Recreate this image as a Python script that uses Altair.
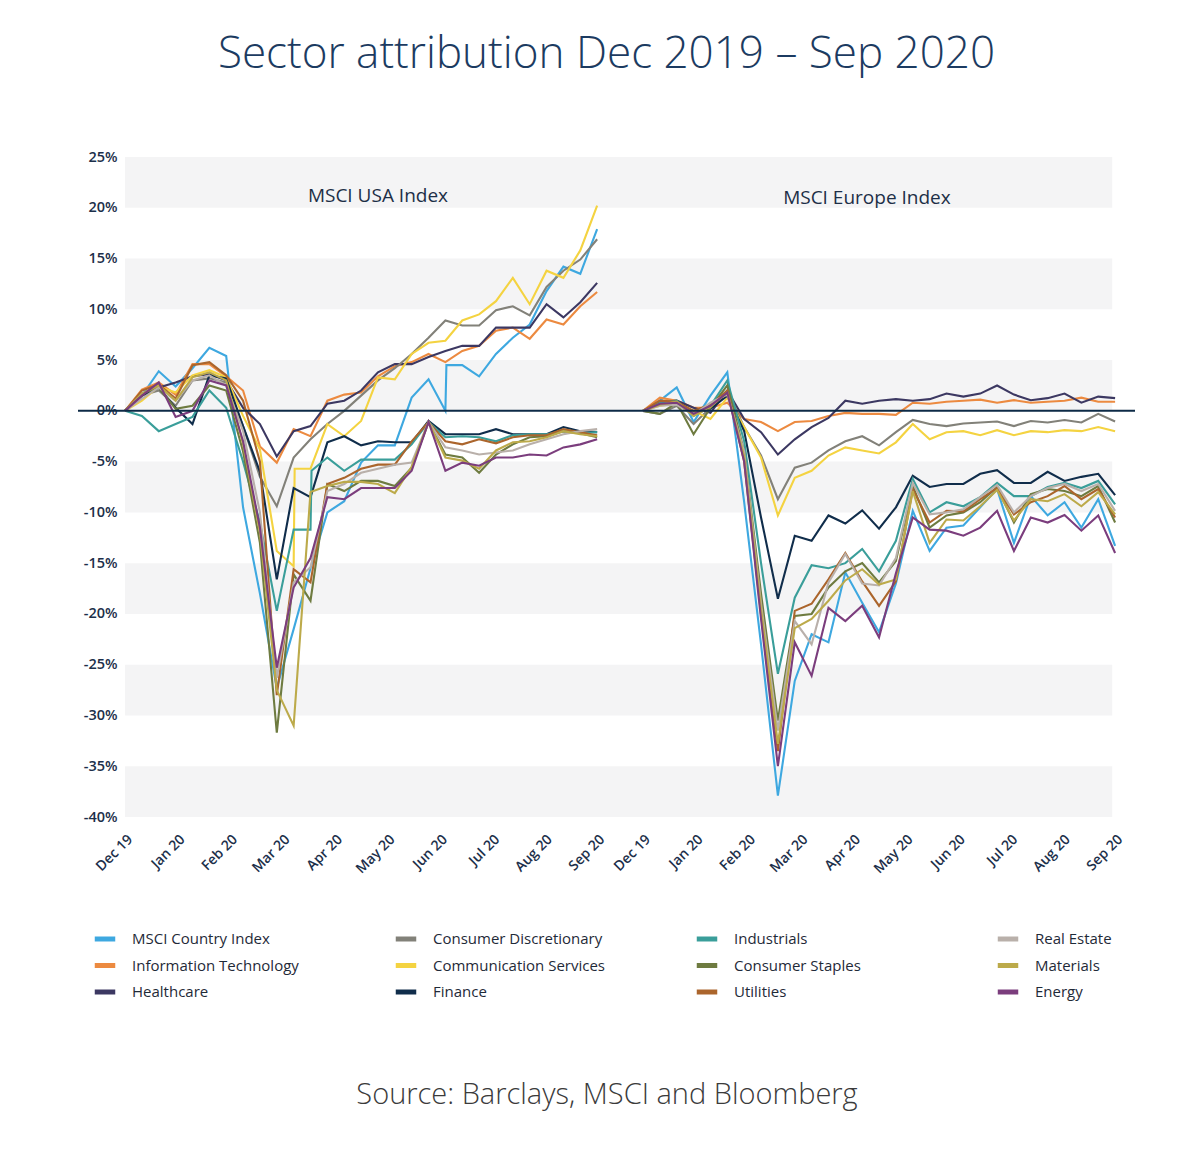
import altair as alt
import pandas as pd

TITLE = "Sector attribution Dec 2019 \u2013 Sep 2020"
SOURCE = "Source: Barclays, MSCI and Bloomberg"
PANELS = ["MSCI USA Index", "MSCI Europe Index"]
MONTHS = ["Dec 19", "Jan 20", "Feb 20", "Mar 20", "Apr 20", "May 20",
          "Jun 20", "Jul 20", "Aug 20", "Sep 20"]
SERIES = ["MSCI Country Index", "Consumer Discretionary", "Industrials", "Real Estate",
          "Information Technology", "Communication Services", "Consumer Staples", "Materials",
          "Healthcare", "Finance", "Utilities", "Energy"]
COLORS = ["#3ea8e0", "#828179", "#3a9e9a", "#b9b0aa",
          "#ec8a40", "#f4d341", "#6e7b40", "#bcaa4a",
          "#3c3862", "#102d4b", "#ab652c", "#7b3d7d"]
Y_TICKS = list(range(-40, 30, 5))
BAND_LOWS = [20, 10, 0, -10, -20, -30, -40]

# ---- MSCI USA panel, weekly cumulative attribution (%) ----
us_country = [0, 1.5, 3.9, 2.4, 4.2, 6.2, 5.4, -9.5, -18.0, -27.3, -21.5, -15.5, -10.0, -8.9, -5.1,
              -3.4, -3.4, 1.3, 3.1, 0.0, 4.5, 3.4, 5.6, 7.2, 8.5, 11.8, 14.2, 13.5, 17.9]
us_it = [0, 2.1, 2.8, 1.6, 4.6, 4.6, 3.4, 2.0, -3.5, -5.1, -1.8, -2.5, 1.0, 1.6, 1.8,
         3.4, 4.4, 4.8, 5.6, 4.8, 5.9, 6.4, 7.9, 8.2, 7.1, 9.0, 8.5, 10.3, 11.7]
us_health = [0, 1.6, 2.3, 2.8, 3.4, 3.6, 3.0, 0.3, -1.3, -4.5, -2.0, -1.5, 0.7, 1.0, 2.0,
             3.8, 4.6, 4.6, 5.3, 5.9, 6.4, 6.4, 8.2, 8.2, 8.2, 10.5, 9.2, 10.7, 12.6]
us_discr = [0, 1.5, 2.0, 0.5, 3.0, 3.2, 2.8, -1.5, -6.5, -9.4, -4.6, -2.8, -1.3, 0.0, 1.5,
            3.0, 4.2, 5.6, 7.2, 8.9, 8.4, 8.4, 9.9, 10.3, 9.4, 12.2, 13.8, 14.9, 16.9]
us_comm = [0, 1.0, 2.4, 1.8, 3.5, 4.0, 3.3, -0.5, -3.8, -13.8, -15.3, -5.7, -1.3, -2.5, -1.0,
           3.3, 3.1, 5.6, 6.7, 6.9, 8.9, 9.5, 10.8, 13.1, 10.5, 13.8, 13.1, 15.8, 20.2]
us_fin = [0, 1.5, 2.3, 0.3, -1.3, 3.5, 3.2, -1.5, -6.0, -16.6, -7.6, -8.5, -3.1, -2.5, -3.4,
          -3.0, -3.1, -3.1, -1.0, -2.3, -2.3, -2.3, -1.8, -2.3, -2.3, -2.3, -1.6, -2.0, -2.1]
us_ind = [0, -0.5, -2.0, -1.3, -0.6, 2.0, 0.3, -5.0, -11.0, -19.7, -11.7, -11.7, -4.6, -5.9, -4.8,
          -4.8, -4.8, -3.3, -1.1, -2.6, -2.5, -2.6, -3.0, -2.4, -2.3, -2.3, -2.0, -2.2, -2.1]
us_staples = [0, 1.7, 2.3, 0.2, 0.5, 2.5, 2.0, -4.0, -13.0, -31.7, -16.1, -18.7, -7.2, -7.9, -6.9,
              -6.9, -7.4, -5.6, -1.1, -4.3, -4.6, -6.1, -4.3, -3.3, -2.6, -2.5, -2.0, -2.2, -2.6]
us_util = [0, 2.0, 2.6, 1.2, 4.5, 4.8, 3.5, 1.0, -5.0, -28.0, -15.6, -16.9, -7.2, -6.6, -5.7,
           -5.3, -5.3, -3.0, -1.1, -3.0, -3.3, -2.8, -3.2, -2.6, -2.4, -2.4, -1.8, -2.1, -2.4]
us_re = [0, 1.2, 2.3, 1.0, 3.0, 3.5, 2.5, -2.0, -10.0, -26.3, -16.9, -15.4, -7.9, -7.2, -6.1,
         -5.7, -5.3, -5.1, -1.1, -3.6, -3.9, -4.3, -4.1, -3.9, -3.3, -2.8, -2.3, -2.0, -1.8]
us_mat = [0, 1.7, 2.5, 1.0, 3.3, 3.8, 3.0, -3.3, -12.0, -27.5, -31.0, -8.0, -7.4, -7.0, -7.0,
          -7.2, -8.1, -5.5, -1.1, -4.6, -4.9, -5.7, -3.9, -3.1, -3.0, -2.6, -2.0, -2.3, -2.5]
us_energy = [0, 1.5, 2.8, -0.6, 0.0, 3.0, 2.5, -3.0, -11.5, -25.3, -17.4, -14.5, -8.5, -8.7, -7.6,
             -7.6, -7.6, -5.9, -1.1, -5.9, -5.1, -5.4, -4.6, -4.6, -4.3, -4.4, -3.6, -3.3, -2.8]
# same-week restatements (series, week index, restated value)
us_jumps = [("MSCI Country Index", 19, 4.5), ("Communication Services", 10, -5.7),
            ("Industrials", 11, -5.9)]

# ---- MSCI Europe panel ----
eu_country = [0, 1.0, 2.3, -1.1, 1.5, 3.8, -9.0, -23.0, -37.9, -26.6, -22.0, -22.8, -15.9, -18.9, -21.8,
              -17.0, -9.85, -13.8, -11.5, -11.3, -9.5, -7.7, -13.0, -8.4, -10.3, -9.0, -11.5, -8.7, -13.3]
eu_it = [0, 1.3, 1.0, 0.3, 0.3, 0.8, -0.8, -1.1, -2.0, -1.1, -1.0, -0.5, -0.2, -0.3, -0.3,
         -0.4, 0.8, 0.7, 0.9, 1.0, 1.1, 0.8, 1.05, 0.8, 0.9, 1.0, 1.3, 0.9, 0.9]
eu_health = [0, 0.8, 1.0, 0.3, -0.2, 2.0, -0.8, -2.1, -4.3, -2.8, -1.6, -0.7, 1.0, 0.7, 1.0,
             1.15, 1.0, 1.15, 1.7, 1.4, 1.7, 2.5, 1.6, 1.05, 1.25, 1.7, 0.8, 1.4, 1.25]
eu_discr = [0, -0.3, 0.5, -1.3, 0.3, 2.0, -1.6, -4.4, -8.7, -5.6, -5.1, -3.9, -3.0, -2.5, -3.4,
            -2.1, -0.9, -1.3, -1.5, -1.25, -1.15, -1.05, -1.5, -1.0, -1.15, -0.9, -1.15, -0.3, -1.05]
eu_comm = [0, 0.5, 0.7, 0.0, -0.8, 1.3, -1.6, -4.6, -10.3, -6.6, -5.9, -4.4, -3.6, -3.9, -4.2,
           -3.1, -1.3, -2.8, -2.1, -2.0, -2.4, -1.9, -2.4, -2.0, -2.1, -1.9, -2.0, -1.6, -2.0]
eu_fin = [0, 0.8, 0.7, -0.3, 0.2, 1.5, -2.0, -10.5, -18.5, -12.3, -12.8, -10.3, -11.1, -9.8, -11.6,
          -9.5, -6.4, -7.5, -7.2, -7.2, -6.2, -5.85, -7.1, -7.1, -6.0, -6.9, -6.5, -6.2, -8.3]
eu_ind = [0, 0.8, 1.0, -0.5, 0.5, 3.0, -3.0, -15.0, -25.9, -18.4, -15.2, -15.5, -15.0, -13.6, -15.8,
          -12.8, -6.7, -10.0, -9.0, -9.4, -8.5, -7.1, -8.4, -8.4, -7.5, -7.1, -7.6, -6.9, -9.2]
eu_staples = [0, -0.3, 0.8, -2.3, 0.3, 2.5, -4.0, -18.0, -30.5, -20.2, -20.0, -17.4, -15.8, -15.0, -16.9,
              -14.8, -7.4, -11.5, -10.3, -10.0, -9.0, -7.5, -11.0, -8.2, -7.7, -7.9, -8.4, -7.4, -11.0]
eu_util = [0, 1.0, 0.9, 0.0, 0.6, 2.0, -5.0, -20.0, -33.5, -19.7, -19.0, -16.6, -14.0, -16.8, -19.2,
           -16.8, -7.7, -11.0, -9.85, -9.9, -8.7, -7.6, -10.2, -9.0, -8.4, -7.4, -8.7, -7.7, -10.5]
eu_re = [0, 0.5, 0.6, -0.4, 0.8, 1.6, -4.0, -19.0, -31.5, -20.7, -23.0, -16.9, -14.1, -17.0, -17.2,
         -14.5, -7.1, -10.2, -10.0, -9.7, -8.5, -7.3, -10.0, -8.4, -7.6, -7.2, -7.9, -7.2, -9.85]
eu_mat = [0, 0.6, 0.9, -0.5, 0.4, 1.8, -4.5, -19.5, -32.8, -21.4, -20.5, -18.7, -16.7, -15.6, -17.1,
          -16.6, -7.9, -13.0, -10.7, -10.8, -9.4, -7.8, -10.8, -8.7, -8.9, -8.2, -9.4, -8.0, -10.2]
eu_energy = [0, 0.7, 0.8, -0.3, 0.5, 1.8, -5.0, -20.5, -35.0, -22.8, -26.1, -19.4, -20.7, -19.2, -22.3,
             -16.0, -10.5, -11.7, -11.8, -12.3, -11.5, -9.85, -13.8, -10.5, -11.0, -10.25, -11.8, -10.3, -14.0]
eu_jumps = []

US = {"MSCI Country Index": us_country, "Information Technology": us_it, "Healthcare": us_health,
      "Consumer Discretionary": us_discr, "Communication Services": us_comm, "Finance": us_fin,
      "Industrials": us_ind, "Consumer Staples": us_staples, "Utilities": us_util,
      "Real Estate": us_re, "Materials": us_mat, "Energy": us_energy}
EU = {"MSCI Country Index": eu_country, "Information Technology": eu_it, "Healthcare": eu_health,
      "Consumer Discretionary": eu_discr, "Communication Services": eu_comm, "Finance": eu_fin,
      "Industrials": eu_ind, "Consumer Staples": eu_staples, "Utilities": eu_util,
      "Real Estate": eu_re, "Materials": eu_mat, "Energy": eu_energy}

# ---- layout constants (x in week units) ----
N_WEEKS = 28
EU_OFFSET = 30.72
X_MIN, X_MAX = -2.79, 59.9
BAND_END = 58.55
W, H = 1057, 660

rows = []
for panel, offset, table, jumps in [(PANELS[0], 0.0, US, us_jumps), (PANELS[1], EU_OFFSET, EU, eu_jumps)]:
    for name, vals in table.items():
        for i, v in enumerate(vals):
            rows.append({"panel": panel, "series": name, "pos": i + offset, "value": v})
    for name, i, v in jumps:
        rows.append({"panel": panel, "series": name, "pos": i + offset + 0.06, "value": v})
df = pd.DataFrame(rows)

bands_df = pd.DataFrame({"lo": BAND_LOWS, "hi": [b + 5 for b in BAND_LOWS],
                         "x0": [0.0] * len(BAND_LOWS), "x1": [BAND_END] * len(BAND_LOWS)})

x_ticks = [i * N_WEEKS / 9 for i in range(10)] + [EU_OFFSET + i * N_WEEKS / 9 for i in range(10)]
month_arr = "[" + ",".join("'%s'" % m for m in MONTHS) + "]"
x_label_expr = "%s[round((datum.value > %f ? datum.value - %f : datum.value) * 9 / %d)]" % (
    month_arr, EU_OFFSET - 1, EU_OFFSET, N_WEEKS)

FONT = "Open Sans"
NAVY = "#1c2f4a"

x_scale = alt.Scale(domain=[X_MIN, X_MAX], nice=False, zero=False)
y_scale = alt.Scale(domain=[-40, 25], nice=False, zero=False)
x_axis = alt.Axis(values=x_ticks, labelExpr=x_label_expr, labelAngle=-45, domain=False, ticks=False,
                  grid=False, labelPadding=15, labelFont=FONT, labelFontSize=14, labelFontWeight=600,
                  labelColor=NAVY, labelOverlap=False, labelFlush=False, labelBound=False, title=None)
y_axis = alt.Axis(values=Y_TICKS, labelExpr="datum.value + '%'", domain=False, ticks=False, grid=False,
                  labelPadding=0, offset=-39, labelFont=FONT, labelFontSize=14.5, labelFontWeight=600,
                  labelColor=NAVY, title=None)

bands = alt.Chart(bands_df).mark_rect(color="#f4f4f5").encode(
    x=alt.X("x0:Q", scale=x_scale, axis=x_axis, title=None),
    x2="x1:Q",
    y=alt.Y("lo:Q", scale=y_scale, axis=y_axis, title=None),
    y2="hi:Q",
)

lines = alt.Chart(df).mark_line(strokeWidth=2.1).encode(
    x=alt.X("pos:Q", scale=x_scale, axis=x_axis, title=None),
    y=alt.Y("value:Q", scale=y_scale, axis=y_axis, title=None),
    color=alt.Color("series:N", scale=alt.Scale(domain=SERIES, range=COLORS),
                    legend=alt.Legend(title=None, orient="none", legendX=14, legendY=769,
                                      direction="horizontal", columns=4, gridAlign="all",
                                      columnPadding=80, rowPadding=3.5, symbolType="stroke",
                                      symbolStrokeWidth=5, symbolSize=420, labelFont=FONT,
                                      labelFontSize=15, labelColor="#1f2a38", labelOffset=14,
                                      labelLimit=300)),
    detail="panel:N",
    order="pos:Q",
)

zero = alt.Chart(pd.DataFrame({"v": [0]})).mark_rule(color="#0d2a46", strokeWidth=2).encode(
    y=alt.Y("v:Q", scale=y_scale, axis=y_axis, title=None)
)

panel_df = pd.DataFrame({"label": PANELS, "pos": [15.0, 44.0], "v": [21.2, 21.0]})
panel_text = alt.Chart(panel_df).mark_text(font=FONT, fontSize=19, color="#1d2f47").encode(
    x=alt.X("pos:Q", scale=x_scale, axis=x_axis, title=None),
    y=alt.Y("v:Q", scale=y_scale, axis=y_axis, title=None),
    text="label:N",
)

source = alt.Chart(pd.DataFrame({"t": [SOURCE]})).mark_text(
    font=FONT, fontSize=29, fontWeight=300, color="#3b3b3b"
).encode(x=alt.value(529), y=alt.value(938), text="t:N")

chart = alt.layer(bands, lines, zero, panel_text, source).properties(
    width=W, height=H,
    title=alt.Title(TITLE, font=FONT, fontSize=44, fontWeight=300, color="#1c3b61",
                    anchor="middle", offset=72),
    autosize=alt.AutoSizeParams(type="none"),
    padding={"left": 70, "top": 149, "right": 57, "bottom": 325},
).configure_view(stroke=None)

chart.save("out.html", embed_options={"renderer": "svg", "actions": False})
